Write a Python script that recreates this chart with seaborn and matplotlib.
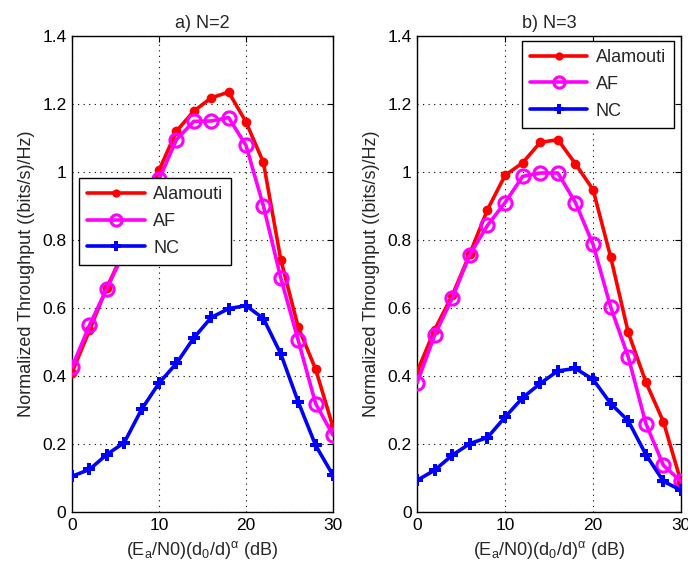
import numpy as np
import pandas as pd
import matplotlib
matplotlib.use("Agg")
import matplotlib.pyplot as plt
import seaborn as sns

sns.set_style("white")
plt.rcParams['font.family'] = ['Liberation Sans', 'DejaVu Sans']
plt.rcParams['mathtext.fontset'] = 'custom'
plt.rcParams['mathtext.rm'] = 'Liberation Sans'
plt.rcParams['mathtext.it'] = 'Liberation Sans'

snr = [0, 2, 4, 6, 8, 10, 12, 14, 16, 18, 20, 22, 24, 26, 28, 30]

# panel a) N=2
a_alamouti = [0.41, 0.534, 0.66, 0.77, 0.88, 1.005, 1.12, 1.179, 1.218, 1.235, 1.147, 1.028, 0.742, 0.544, 0.42, 0.25]
a_af = [0.426, 0.549, 0.657, 0.765, 0.87, 0.978, 1.095, 1.149, 1.15, 1.16, 1.078, 0.9, 0.688, 0.505, 0.319, 0.226]
a_nc = [0.105, 0.125, 0.169, 0.204, 0.302, 0.379, 0.437, 0.512, 0.572, 0.598, 0.607, 0.569, 0.465, 0.324, 0.196, 0.108]

# panel b) N=3
b_alamouti = [0.412, 0.536, 0.637, 0.76, 0.889, 0.99, 1.027, 1.087, 1.095, 1.024, 0.948, 0.75, 0.528, 0.382, 0.265, 0.088]
b_af = [0.38, 0.52, 0.629, 0.757, 0.843, 0.91, 0.987, 0.997, 0.997, 0.91, 0.787, 0.603, 0.456, 0.26, 0.137, 0.09]
b_nc = [0.093, 0.123, 0.167, 0.201, 0.219, 0.279, 0.336, 0.378, 0.415, 0.422, 0.39, 0.319, 0.268, 0.169, 0.09, 0.064]

titles = ["a) N=2", "b) N=3"]
colors = {"Alamouti": "#ff0000", "AF": "#ff00ff", "NC": "#0000ff"}

fig = plt.figure(figsize=(6.88, 5.73), dpi=100)
ax1 = fig.add_axes([0.1047, 0.1065, 0.3793, 0.8307])
ax2 = fig.add_axes([0.6062, 0.1065, 0.3837, 0.8307])

panels = [
    (ax1, titles[0], [a_alamouti, a_af, a_nc], ("upper left", (0.027, 0.702))),
    (ax2, titles[1], [b_alamouti, b_af, b_nc], ("upper right", (0.973, 0.99))),
]

fs_tick = 12.5
fs_lab = 13
for ax, title, data, (legloc, legpos) in panels:
    df = pd.DataFrame({"snr": snr, "Alamouti": data[0], "AF": data[1], "NC": data[2]})
    sns.lineplot(data=df, x="snr", y="Alamouti", ax=ax, color=colors["Alamouti"], lw=2.6,
                 marker="o", markersize=7, markeredgewidth=0, label="Alamouti", zorder=3)
    sns.lineplot(data=df, x="snr", y="AF", ax=ax, color=colors["AF"], lw=2.6,
                 marker="o", markersize=9.5, markerfacecolor="none", markeredgecolor=colors["AF"],
                 markeredgewidth=2.2, label="AF", zorder=4)
    sns.lineplot(data=df, x="snr", y="NC", ax=ax, color=colors["NC"], lw=2.6,
                 marker="P", markersize=8.5, markeredgewidth=0, label="NC", zorder=5)
    ax.set_xlim(0, 30)
    ax.set_ylim(0, 1.4)
    ax.set_xticks([0, 10, 20, 30])
    ax.set_yticks([0, 0.2, 0.4, 0.6, 0.8, 1.0, 1.2, 1.4])
    ax.set_yticklabels(["0", "0.2", "0.4", "0.6", "0.8", "1", "1.2", "1.4"])
    ax.grid(True, color="black", linestyle=(0, (1, 4)), linewidth=0.8)
    ax.tick_params(direction="in", length=4, width=0.8, top=True, right=True,
                   labelsize=fs_tick, colors="black", pad=4)
    for s in ax.spines.values():
        s.set_color("black")
        s.set_linewidth(1.0)
    ax.set_title(title, fontsize=fs_lab, pad=6)
    ax.set_xlabel(r"(E$_{\mathrm{a}}$/N0)(d$_{\mathrm{0}}$/d)$^{\alpha}$ (dB)", fontsize=fs_lab, labelpad=5)
    ax.set_ylabel("Normalized Throughput ((bits/s)/Hz)", fontsize=fs_lab, labelpad=5)
    leg = ax.legend(loc=legloc, bbox_to_anchor=legpos,
                    fontsize=13, frameon=True, fancybox=False, edgecolor="black",
                    framealpha=1, handlelength=3.2, borderpad=0.45, labelspacing=0.55,
                    handletextpad=0.45, borderaxespad=0, markerscale=0.85)
    leg.get_frame().set_linewidth(1.0)

fig.savefig("out.png", dpi=100)
